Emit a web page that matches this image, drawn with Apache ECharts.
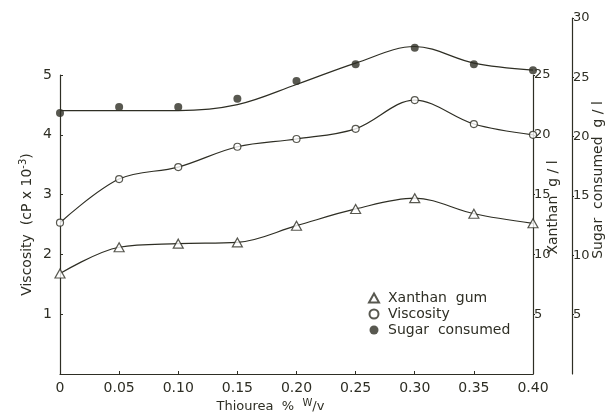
<!DOCTYPE html>
<html><head><meta charset="utf-8">
<script src="https://cdn.jsdelivr.net/npm/echarts@6/dist/echarts.min.js"></script>
<style>html,body{margin:0;padding:0;background:#fff}#c{width:610px;height:413px}</style>
</head><body><div id="c"></div>
<script>
// ---- data ----
const thiourea = [0, 0.05, 0.10, 0.15, 0.20, 0.25, 0.30, 0.35, 0.40];
const xTickLabels = ['0', '0.05', '0.10', '0.15', '0.20', '0.25', '0.30', '0.35', '0.40'];
const viscosity = [2.53, 3.26, 3.46, 3.80, 3.93, 4.10, 4.58, 4.18, 4.00];      // cP x 10^-3
const xanthan = [8.4, 10.6, 10.9, 11.0, 12.4, 13.8, 14.7, 13.4, 12.6];          // g/l
const sugar = [22.0, 22.5, 22.5, 23.2, 24.7, 26.1, 27.5, 26.1, 25.6];           // g/l (points)
const sugarCurve = [22.2, 22.2, 22.2, 22.7, 24.4, 26.2, 27.6, 26.2, 25.6];      // g/l (fitted curve)
const legendNames = ['Xanthan gum', 'Viscosity', 'Sugar consumed'];

const pairs = (xs, ys) => xs.map((x, i) => [x, ys[i]]);
const INK = '#2e2e24';
const FONT = 'DejaVu Sans';

const chart = echarts.init(document.getElementById('c'), null, {renderer: 'canvas'});

const lineAxis = {show: true, onZero: false, lineStyle: {color: INK, width: 1.2}};
const tickStyle = {color: INK, width: 1};
const labelBase = {color: INK, fontFamily: FONT, fontSize: 13};

const option = {
  animation: false,
  backgroundColor: '#fff',
  grid: [
    {left: 60, right: 77, top: 75, bottom: 39, outerBoundsMode: 'none', containLabel: false},
    {left: 60, right: 77, top: 18, bottom: 39, outerBoundsMode: 'none', containLabel: false}
  ],
  legend: {
    data: [
      {name: legendNames[0], icon: 'triangle'},
      {name: legendNames[1], icon: 'circle'},
      {name: legendNames[2], icon: 'circle'}
    ],
    orient: 'vertical', left: 363, top: 286,
    itemWidth: 10, itemHeight: 9, itemGap: 2,
    formatter: n => n.replace(' ', '  '),
    textStyle: {color: INK, fontFamily: FONT, fontSize: 14, lineHeight: 14, padding: [0, 0, 0, 4]}
  },
  xAxis: [
    {
      gridIndex: 0, type: 'value', min: 0, max: 0.4, interval: 0.05,
      axisLine: lineAxis,
      axisTick: {show: true, inside: true, length: 3, lineStyle: tickStyle},
      splitLine: {show: false},
      axisLabel: Object.assign({}, labelBase, {fontSize: 14, margin: 7,
        formatter: v => xTickLabels[Math.round(v / 0.05)]}),
      name: 'Thiourea  %  {sup|W}/v', nameLocation: 'middle', nameGap: 24, nameMoveOverlap: false,
      nameTextStyle: {color: INK, fontFamily: FONT, fontSize: 13, padding: [0, 52, 0, 0],
        rich: {sup: {fontSize: 10, fontFamily: FONT, color: INK, padding: [0, 0, 7, 0]}}}
    },
    {gridIndex: 1, type: 'value', min: 0, max: 0.4, show: false}
  ],
  yAxis: [
    {
      gridIndex: 0, type: 'value', position: 'left', min: 0, max: 5, interval: 1,
      axisLine: lineAxis,
      axisTick: {show: true, inside: true, length: 3, lineStyle: tickStyle},
      splitLine: {show: false},
      axisLabel: Object.assign({}, labelBase, {fontSize: 14, margin: 8, showMinLabel: false}),
      name: 'Viscosity  (cP x 10{sup|-3})', nameLocation: 'middle', nameGap: 24, nameRotate: 90,
      nameMoveOverlap: false,
      nameTextStyle: {color: INK, fontFamily: FONT, fontSize: 14,
        rich: {sup: {fontSize: 10, fontFamily: FONT, color: INK, padding: [0, 0, 8, 0]}}}
    },
    {
      gridIndex: 0, type: 'value', position: 'right', min: 0, max: 25, interval: 5,
      axisLine: lineAxis,
      axisTick: {show: true, inside: false, length: 2, lineStyle: tickStyle},
      splitLine: {show: false},
      axisLabel: Object.assign({}, labelBase, {fontSize: 13, margin: 1, showMinLabel: false}),
      name: 'Xanthan  g / l', nameLocation: 'middle', nameGap: 13, nameRotate: 90,
      nameMoveOverlap: false,
      nameTextStyle: {color: INK, fontFamily: FONT, fontSize: 14, padding: [0, 0, 0, 34]}
    },
    {
      gridIndex: 1, type: 'value', position: 'right', offset: 39, min: 0, max: 30, interval: 5,
      axisLine: lineAxis,
      axisTick: {show: true, inside: false, length: 2, lineStyle: tickStyle},
      splitLine: {show: false},
      axisLabel: Object.assign({}, labelBase, {fontSize: 13, margin: 1, showMinLabel: false}),
      name: 'Sugar  consumed  g / l', nameLocation: 'middle', nameGap: 19, nameRotate: 90,
      nameMoveOverlap: false,
      nameTextStyle: {color: INK, fontFamily: FONT, fontSize: 14, padding: [0, 0, 0, 32]}
    }
  ],
  series: [
    {type: 'line', xAxisIndex: 0, yAxisIndex: 0, data: pairs(thiourea, viscosity),
      smooth: 0.35, showSymbol: false, silent: true, z: 2,
      lineStyle: {color: INK, width: 1.2}},
    {type: 'line', xAxisIndex: 0, yAxisIndex: 1, data: pairs(thiourea, xanthan),
      smooth: 0.35, showSymbol: false, silent: true, z: 2,
      lineStyle: {color: INK, width: 1.2}},
    {type: 'line', xAxisIndex: 1, yAxisIndex: 2, data: pairs(thiourea, sugarCurve),
      smooth: 0.35, showSymbol: false, silent: true, z: 2,
      lineStyle: {color: INK, width: 1.2}},
    {type: 'scatter', name: legendNames[0], xAxisIndex: 0, yAxisIndex: 1,
      data: pairs(thiourea, xanthan), symbol: 'triangle', symbolSize: [10, 9], z: 3,
      itemStyle: {color: '#fff', borderColor: INK, borderWidth: 1.2}},
    {type: 'scatter', name: legendNames[1], xAxisIndex: 0, yAxisIndex: 0,
      data: pairs(thiourea, viscosity), symbol: 'circle', symbolSize: 7, z: 3,
      itemStyle: {color: '#fff', borderColor: INK, borderWidth: 1.2}},
    {type: 'scatter', name: legendNames[2], xAxisIndex: 1, yAxisIndex: 2,
      data: pairs(thiourea, sugar), symbol: 'circle', symbolSize: 8, z: 3,
      itemStyle: {color: INK}}
  ]
};
chart.setOption(option);
</script>
</body></html>
